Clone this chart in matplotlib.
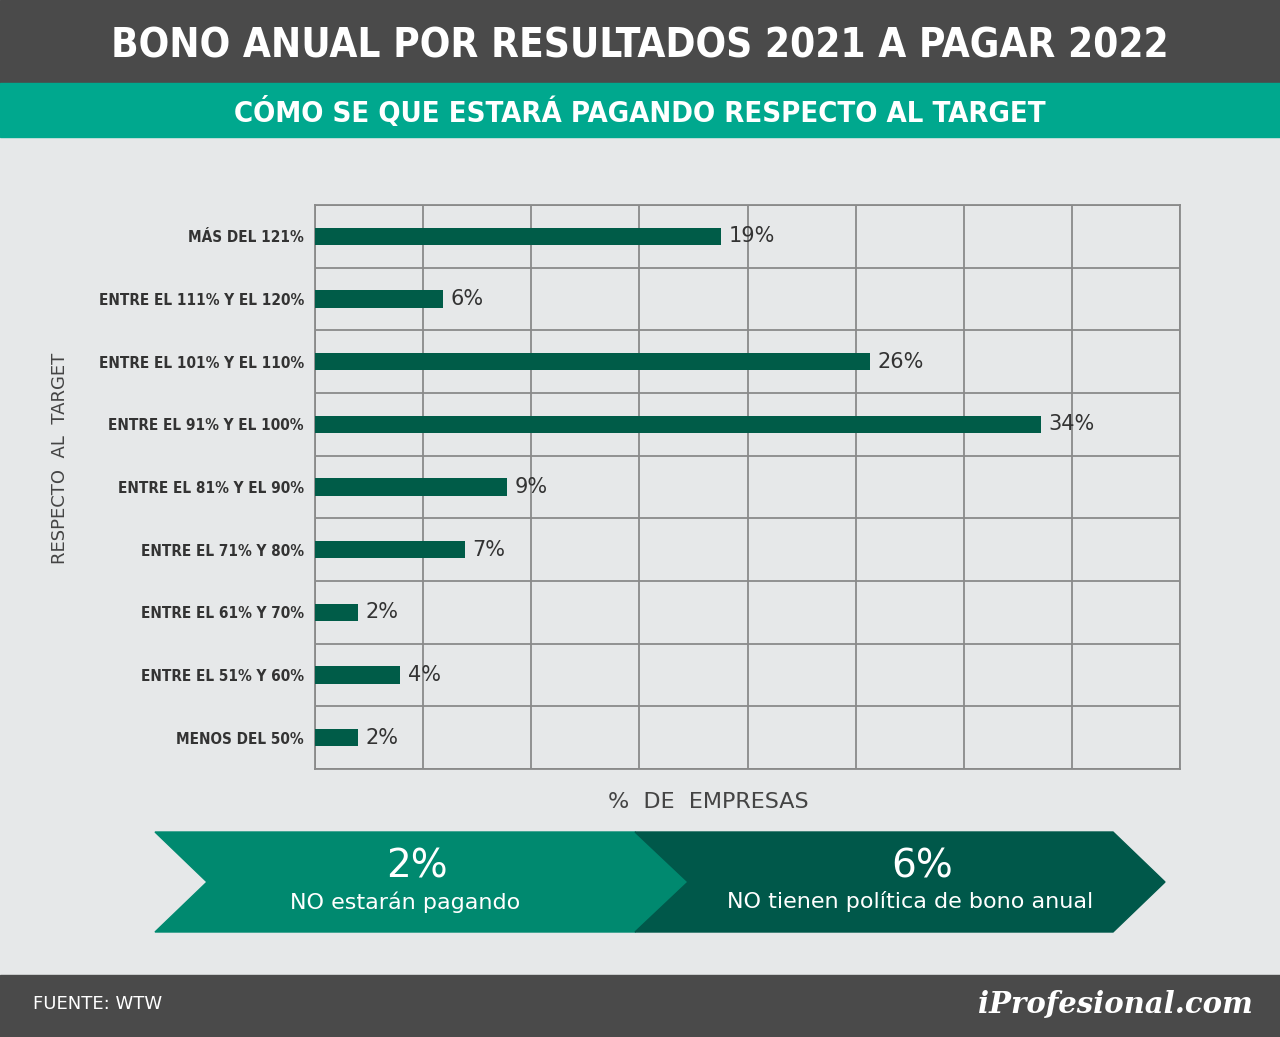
import matplotlib.pyplot as plt
from matplotlib.patches import Polygon, Rectangle

categories = ["MÁS DEL 121%", "ENTRE EL 111% Y EL 120%", "ENTRE EL 101% Y EL 110%",
              "ENTRE EL 91% Y EL 100%", "ENTRE EL 81% Y EL 90%", "ENTRE EL 71% Y 80%",
              "ENTRE EL 61% Y 70%", "ENTRE EL 51% Y 60%", "MENOS DEL 50%"]
values = [19, 6, 26, 34, 9, 7, 2, 4, 2]

W, H = 1280, 1037
BG = "#e6e8e9"
DARK = "#4a4a4a"
TEAL = "#00a88e"
BAR = "#005c48"

fig = plt.figure(figsize=(W / 100, H / 100), dpi=100, facecolor=BG)
bg = fig.add_axes([0, 0, 1, 1])
bg.set_xlim(0, W)
bg.set_ylim(H, 0)
bg.axis("off")

# header bands
bg.add_patch(Rectangle((0, 0), W, 83, color=DARK))
bg.add_patch(Rectangle((0, 83), W, 54, color=TEAL))
bg.text(W / 2, 46, "BONO ANUAL POR RESULTADOS 2021 A PAGAR 2022", color="white",
        fontsize=29, fontweight="bold", ha="center", va="center", fontstretch="condensed")
bg.text(W / 2, 112, "CÓMO SE QUE ESTARÁ PAGANDO RESPECTO AL TARGET", color="white",
        fontsize=21, fontweight="bold", ha="center", va="center", fontstretch="condensed")

# footer band
bg.add_patch(Rectangle((0, 975), W, 62, color=DARK))
bg.text(33, 1004, "FUENTE: WTW", color="white", fontsize=13, va="center")
bg.text(1253, 1004, "iProfesional.com", color="white", fontsize=21, style="italic",
        fontweight="bold", family="DejaVu Serif", ha="right", va="center")

# chevrons
bg.add_patch(Polygon([(155, 832), (635, 832), (688, 882), (635, 932), (155, 932), (207, 882)],
                     color="#00896f"))
bg.add_patch(Polygon([(635, 832), (1113, 832), (1165, 882), (1113, 932), (635, 932), (688, 882)],
                     color="#00584a"))
bg.text(417, 867, "2%", color="white", fontsize=28, ha="center", va="center")
bg.text(405, 902, "NO estarán pagando", color="white", fontsize=16, ha="center", va="center")
bg.text(922, 867, "6%", color="white", fontsize=28, ha="center", va="center")
bg.text(910, 902, "NO tienen política de bono anual", color="white", fontsize=16,
        ha="center", va="center")

bg.text(608, 802, "%  DE  EMPRESAS", color="#444444", fontsize=16, ha="left", va="center")
bg.text(60, 458, "RESPECTO  AL  TARGET", color="#444444", fontsize=13, rotation=90,
        ha="center", va="center")

# chart
ax = fig.add_axes([315 / W, 1 - 769 / H, 865 / W, 564 / H])
ax.set_facecolor(BG)
n = len(categories)
ys = list(range(n))
ax.barh(ys, values, height=0.28, color=BAR, zorder=3)
for y, v in zip(ys, values):
    ax.text(v + 0.35, y, f"{v}%", fontsize=15, color="#333333", va="center", zorder=4)
ax.set_xlim(0, 40.5)
ax.set_ylim(n - 0.5, -0.5)
ax.set_xticks([i * 40.5 / 8 for i in range(9)])
ax.set_yticks([i + 0.5 for i in range(-1, n)], minor=False)
ax.grid(True, color="#8a8a8a", linewidth=1.3, zorder=0)
ax.set_xticklabels([])
ax.set_yticklabels([])
ax.tick_params(length=0)
ax.set_yticks(ys, minor=True)
ax.set_yticklabels(categories, minor=True, fontsize=11, fontweight="bold", color="#333333",
                   fontstretch="condensed")
ax.tick_params(axis="y", which="minor", length=0, pad=8)
for s in ax.spines.values():
    s.set_color("#8a8a8a")
    s.set_linewidth(1.3)

fig.savefig("out.png", dpi=100, facecolor=BG)
